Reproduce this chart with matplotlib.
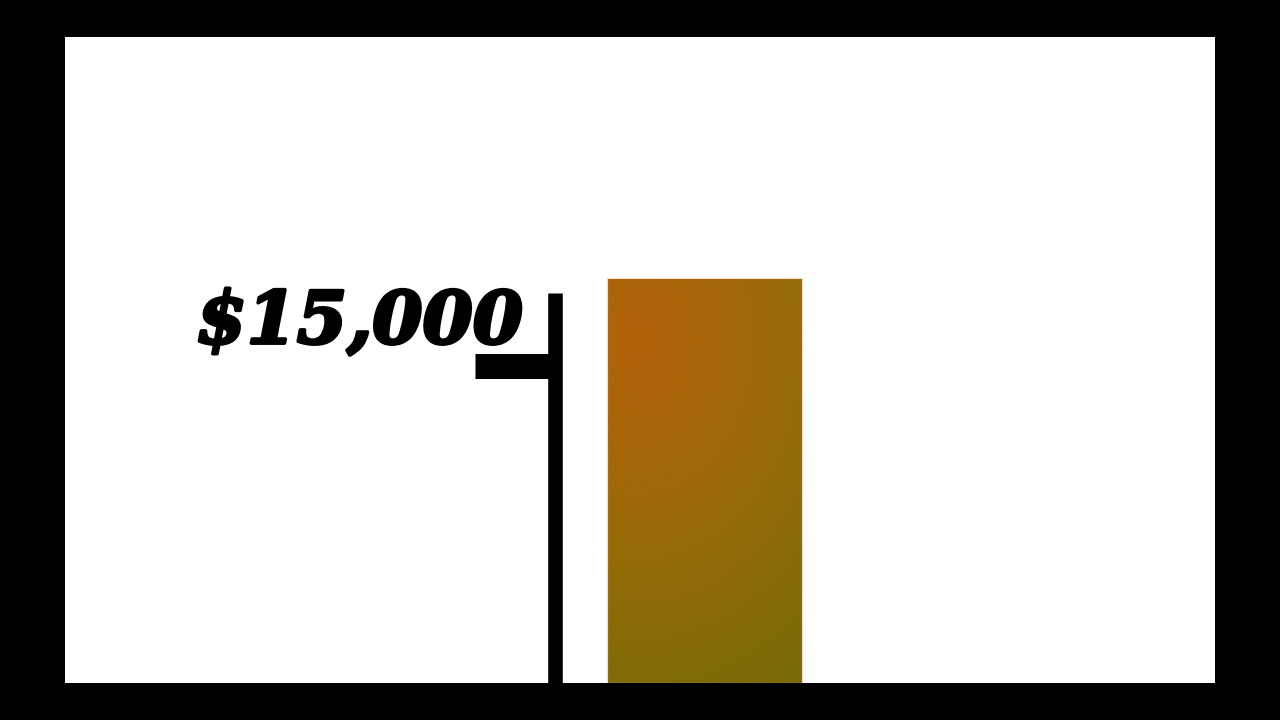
import numpy as np
import matplotlib
matplotlib.use('Agg')
import matplotlib.pyplot as plt
import matplotlib.patheffects as pe
from matplotlib.colors import LinearSegmentedColormap

# data
categories = ['']
values = [19150]
tick_values = [15000]
tick_labels = ['$15,000']
axis_top = 18450

fig = plt.figure(figsize=(12.8, 7.2), dpi=100, facecolor='black')
ax = fig.add_axes([65/1280, 37/720, 1150/1280, 646/720])
ax.set_facecolor('white')
for s in ax.spines.values():
    s.set_visible(False)
ax.set_xticks([])
ax.set_yticks([])

ax.set_xlim(-2.624, 2.094)
ax.set_ylim(0, 30570)

bars = ax.bar(range(len(categories)), values, width=0.8, color='none',
              edgecolor='#f7d9c9', linewidth=0.8, zorder=3)

# gradient fill for the bar
cmap = LinearSegmentedColormap.from_list('bar', ['#b5620b', '#9a6a08', '#7b6b08'])
yy, xx = np.mgrid[0:1:200j, 0:1:100j]
grad = np.clip(np.sqrt((xx - 0.15)**2 * 0.4 + (yy - 0.85)**2), 0, 1)
for b in bars:
    x0, w, h = b.get_x(), b.get_width(), b.get_height()
    im = ax.imshow(grad, extent=[x0, x0 + w, 0, h], origin='lower', cmap=cmap,
                   vmin=0, vmax=0.95, aspect='auto', zorder=2)
    im.set_clip_path(b)

# axis line and tick
ax.plot([-0.613, -0.613], [0, axis_top], color='black', lw=10.5,
        solid_capstyle='butt', zorder=4)
for v, lab in zip(tick_values, tick_labels):
    ax.plot([-0.941, -0.613], [v, v], color='black', lw=18,
            solid_capstyle='butt', zorder=4)
    ax.text(-0.745, v + 2050, lab, ha='right', va='center', fontsize=52,
            family='DejaVu Serif', weight='heavy', style='italic', zorder=5,
            path_effects=[pe.withStroke(linewidth=2.5, foreground='black')])

fig.savefig('out.png', dpi=100, facecolor='black')
